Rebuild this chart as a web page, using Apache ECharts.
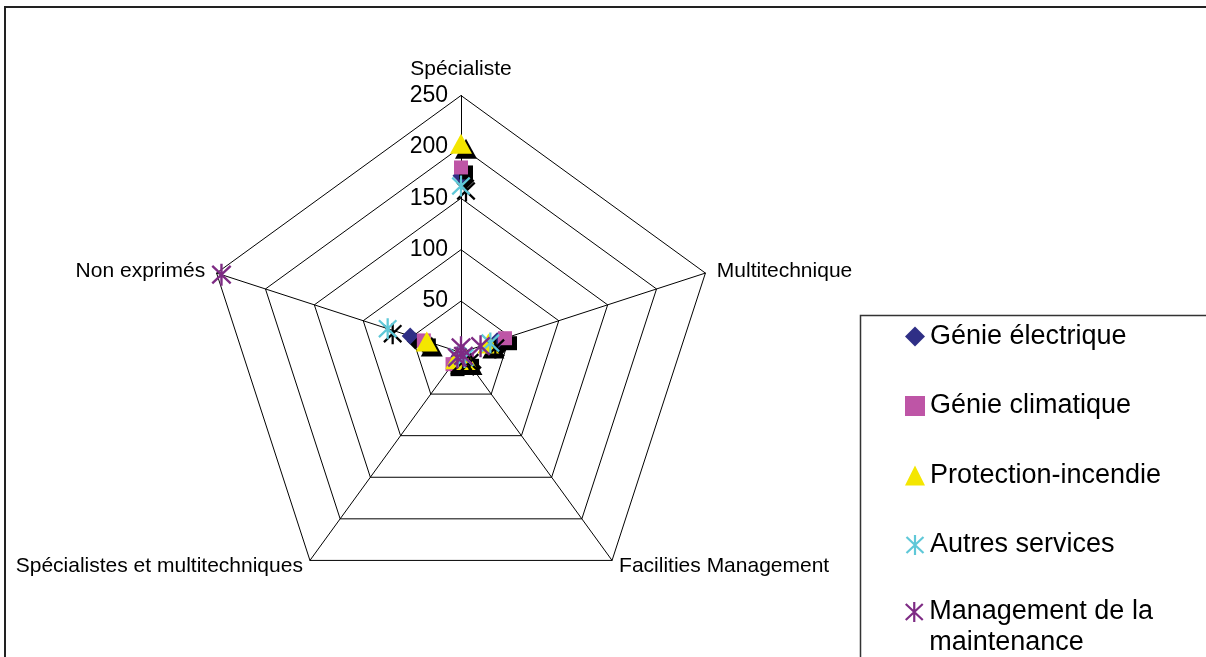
<!DOCTYPE html>
<html>
<head>
<meta charset="utf-8">
<script src="https://cdn.jsdelivr.net/npm/echarts@6/dist/echarts.min.js"></script>
<style>
html, body { margin: 0; padding: 0; background: #fff; }
#chart { width: 1206px; height: 657px; }
</style>
</head>
<body>
<div id="chart"></div>
<script>
// Axes of the radar, listed clockwise from the top
const axes = ['Spécialiste', 'Multitechnique', 'Facilities Management', 'Spécialistes et multitechniques', 'Non exprimés'];
const axisMax = 250;
const splitCount = 5;

// Values per series, in the same order as the axes
const genieElectrique = [172, 37, 12, 10, 52];
const genieClimatique = [180, 45, 10, 14, 38];
const protectionIncendie = [203, 28, 9, 8, 35];
const autresServices = [162, 30, 6, 5, 75];
const managementMaintenance = [5, 20, 4, 6, 245];

const seriesNames = ['Génie électrique', 'Génie climatique', 'Protection-incendie', 'Autres services', 'Management de la maintenance'];
const seriesValues = [genieElectrique, genieClimatique, protectionIncendie, autresServices, managementMaintenance];

// ECharts lays radar indicators out counter-clockwise; reorder so they run clockwise
const order = [0, 4, 3, 2, 1];

// Six-spoke asterisk marker built from three thin bars
function bar(x1, y1, x2, y2, w) {
  const dx = x2 - x1, dy = y2 - y1, len = Math.hypot(dx, dy);
  const nx = -dy / len * w / 2, ny = dx / len * w / 2;
  const p = [[x1 + nx, y1 + ny], [x2 + nx, y2 + ny], [x2 - nx, y2 - ny], [x1 - nx, y1 - ny]];
  return 'M' + p.map(q => q[0].toFixed(2) + ' ' + q[1].toFixed(2)).join(' L') + ' Z';
}
const asteriskBody = [
  bar(10, 0, 10, 20, 2.2),
  bar(1.5, 2, 18.5, 18, 2.2),
  bar(18.5, 2, 1.5, 18, 2.2)
].join(' ');
const asterisk = 'path://' + asteriskBody;
// Legend variant: same asterisk sitting at the top of a taller box (two-line label)
const asteriskTall = 'path://' + asteriskBody + ' M10 51 L10 51 Z';

const colors = ['#2F2F86', '#BE55A6', '#F4E600', '#5FC8D8', '#7E2B84'];
const symbols = ['diamond', 'rect', 'triangle', asterisk, asterisk];
const sizes = [[17, 17], [14, 14], [22, 20], [19, 21], [20, 22]];
const hasShadow = [true, true, true, true, false];

const FONT = "'Liberation Sans', Arial, sans-serif";

// Axis names: the lower two sit a little higher, the side ones a little lower;
// a thin empty rich line shifts the centred text
function axisNameText(name) {
  if (name === 'Facilities Management' || name === 'Spécialistes et multitechniques') {
    return name + '\n{gap| }';
  }
  if (name === 'Multitechnique' || name === 'Non exprimés') {
    return '{gapS| }\n' + name;
  }
  return name;
}

const chart = echarts.init(document.getElementById('chart'), null, { renderer: 'canvas' });

const indicator = order.map((i, k) => {
  const ind = { name: axes[i], max: axisMax, min: 0 };
  if (k === 0) ind.nameTextStyle = { padding: [0, 0, 2, 0] };
  ind.axisLabel = k === 0 ? {
    show: true,
    showMinLabel: false,
    color: '#000',
    fontSize: 23,
    fontFamily: FONT,
    margin: 13
  } : { show: false };
  return ind;
});

const series = seriesNames.map((name, s) => ({
  type: 'radar',
  name: name,
  symbol: symbols[s],
  symbolSize: sizes[s],
  z: 2 + s,
  lineStyle: { width: 0, opacity: 0 },
  itemStyle: hasShadow[s] ? {
    color: colors[s],
    shadowColor: '#000',
    shadowBlur: 0,
    shadowOffsetX: 5,
    shadowOffsetY: 5
  } : { color: colors[s] },
  emphasis: { disabled: true },
  silent: true,
  data: [{ name: name, value: order.map(i => seriesValues[s][i]) }]
}));

const legendCommon = {
  orient: 'vertical',
  left: 905,
  width: 300,
  height: 700,
  padding: 0,
  itemWidth: 20,
  selectedMode: false,
  textStyle: { color: '#000', fontSize: 27, fontFamily: FONT, lineHeight: 31 },
  itemStyle: { shadowColor: 'rgba(0,0,0,0)', shadowBlur: 0, shadowOffsetX: 0, shadowOffsetY: 0 }
};

chart.setOption({
  animation: false,
  backgroundColor: '#fff',
  textStyle: { fontFamily: FONT },
  radar: {
    center: [461, 352.5],
    radius: 257,
    startAngle: 90,
    splitNumber: splitCount,
    shape: 'polygon',
    indicator: indicator,
    axisName: {
      color: '#000',
      fontSize: 21,
      fontFamily: FONT,
      lineHeight: 24,
      formatter: axisNameText,
      rich: {
        gap: { fontSize: 1, lineHeight: 8 },
        gapS: { fontSize: 1, lineHeight: 4 }
      }
    },
    nameGap: 12,
    axisLine: { lineStyle: { color: '#000', width: 1 } },
    splitLine: { lineStyle: { color: '#000', width: 1 } },
    splitArea: { show: false },
    axisTick: { show: false }
  },
  legend: [
    Object.assign({}, legendCommon, {
      top: 321,
      itemHeight: 20,
      itemGap: 38.5,
      data: seriesNames.slice(0, 4).map((n, s) => ({ name: n, icon: symbols[s] }))
    }),
    Object.assign({}, legendCommon, {
      top: 596.5,
      itemHeight: 51,
      formatter: n => n.replace(' de la ', ' de la\n'),
      data: [{ name: seriesNames[4], icon: asteriskTall }]
    })
  ],
  graphic: [
    {
      type: 'rect',
      shape: { x: 5, y: 7, width: 1300, height: 800 },
      style: { fill: 'none', stroke: '#222', lineWidth: 2 },
      silent: true, z: 0
    },
    {
      type: 'rect',
      shape: { x: 860.5, y: 315.5, width: 500, height: 500 },
      style: { fill: 'none', stroke: '#333', lineWidth: 1.5 },
      silent: true, z: 0
    }
  ],
  series: series
});
</script>
</body>
</html>
